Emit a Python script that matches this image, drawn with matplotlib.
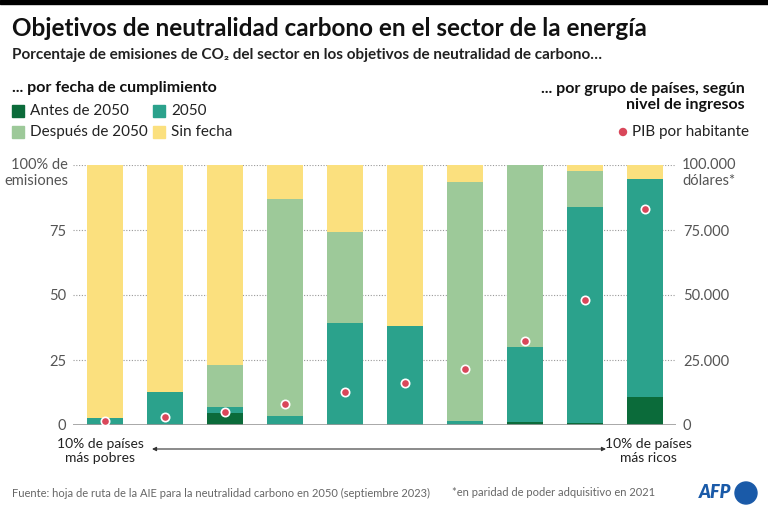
import matplotlib.pyplot as plt
from matplotlib.patches import Rectangle, Ellipse

plt.rcParams['font.family'] = ['Lato', 'DejaVu Sans']

# tramos de ingresos, de los 10% más pobres a los 10% más ricos
grupos = list(range(10))
antes = [0, 0, 4.5, 0, 0, 0, 0, 1.2, 0.9, 10.9]
en_2050 = [2.8, 12.7, 2.5, 3.5, 39.2, 38.0, 1.7, 28.8, 83.1, 83.6]
despues = [0, 0, 16.0, 83.5, 35.1, 0, 91.8, 70.0, 13.7, 0]
sin_fecha = [97.2, 87.3, 77.0, 13.0, 25.7, 62.0, 6.5, 0, 2.3, 5.5]
pib = [1650, 3000, 4900, 8000, 12700, 16000, 21500, 32300, 48000, 83200]

series = [('Antes de 2050', antes, '#0b6b3a'),
          ('2050', en_2050, '#2ba28c'),
          ('Después de 2050', despues, '#9dc999'),
          ('Sin fecha', sin_fecha, '#fbe07e')]

W, H = 768, 509


def fx(px):
    return px / W


def fy(py):
    return 1 - py / H


fig = plt.figure(figsize=(7.68, 5.09), dpi=100)
ax = fig.add_axes([fx(73), 84 / H, 603 / W, 260 / H])

base = [0] * 10
for nombre, vals, color in series:
    ax.bar(grupos, vals, bottom=base, width=0.59, color=color, zorder=2)
    base = [b + v for b, v in zip(base, vals)]

ax.set_xlim(-0.533, 9.517)
ax.set_ylim(0, 100)
for y in [25, 50, 75, 100]:
    ax.axhline(y, color='#999999', lw=0.8, ls=(0, (1, 1.5)), zorder=1)
ax.axhline(0, color='#999999', lw=1.2, zorder=3)
for s in ax.spines.values():
    s.set_visible(False)
ax.set_xticks([])
ax.set_yticks([0, 25, 50, 75])
ax.tick_params(axis='y', length=0, pad=5, labelsize=10.5, labelcolor='#555555')

# eje derecho para el PIB
ax2 = ax.twinx()
ax2.set_ylim(0, 100000)
ax2.scatter(grupos, pib, s=36, color='#d9475a', edgecolor='white', linewidth=1.2, zorder=5)
ax2.set_yticks([0, 25000, 50000, 75000])
ax2.set_yticklabels(['0', '25.000', '50.000', '75.000'])
ax2.tick_params(axis='y', length=0, pad=5, labelsize=10.5, labelcolor='#555555')
for s in ax2.spines.values():
    s.set_visible(False)

gris = dict(fontsize=10.5, color='#555555', va='center')
fig.text(fx(68), fy(165), '100% de', ha='right', **gris)
fig.text(fx(68), fy(181), 'emisiones', ha='right', **gris)
fig.text(fx(682), fy(165), '100.000', ha='left', **gris)
fig.text(fx(682), fy(181), 'dólares*', ha='left', **gris)

# título y textos
fig.patches.append(Rectangle((0, fy(4)), 1, 4 / H, transform=fig.transFigure, color='black'))
fig.text(fx(12), fy(28), 'Objetivos de neutralidad carbono en el sector de la energía',
         fontsize=17.5, fontweight='bold', va='center', color='#111111')
fig.text(fx(12), fy(55),
         'Porcentaje de emisiones de CO₂ del sector en los objetivos de neutralidad de carbono…',
         fontsize=11, fontweight='bold', va='center', color='#222222')
fig.text(fx(12), fy(88), '... por fecha de cumplimiento', fontsize=11.5,
         fontweight='bold', va='center', color='#111111')

pos_leyenda = [(12, 111), (153, 111), (12, 132), (153, 132)]
for (nombre, vals, color), (px, py) in zip(series, pos_leyenda):
    fig.patches.append(Rectangle((fx(px), fy(py + 6)), 12 / W, 12 / H,
                                 transform=fig.transFigure, color=color))
    fig.text(fx(px + 18), fy(py), nombre, fontsize=11, va='center', color='#222222')

fig.text(fx(745), fy(97), '... por grupo de países, según\nnivel de ingresos',
         fontsize=11.5, fontweight='bold', ha='right', va='center', color='#111111',
         linespacing=1.2, multialignment='right')
fig.patches.append(Ellipse((fx(623), fy(132)), 7 / W, 7 / H, transform=fig.transFigure,
                           color='#d9475a'))
fig.text(fx(632), fy(132), 'PIB por habitante', fontsize=11, va='center', color='#222222')

# extremos de la escala de ingresos
fig.text(fx(100), fy(451), '10% de países\nmás pobres', fontsize=10, ha='center',
         va='center', color='#222222', linespacing=1.25)
fig.text(fx(648), fy(451), '10% de países\nmás ricos', fontsize=10, ha='center',
         va='center', color='#222222', linespacing=1.25)
ax.annotate('', xy=(fx(152), fy(449)), xytext=(fx(606), fy(449)),
            xycoords='figure fraction', textcoords='figure fraction',
            arrowprops=dict(arrowstyle='<|-|>', color='#333333', lw=0.8,
                            mutation_scale=6, shrinkA=0, shrinkB=0))

pie = dict(fontsize=8, va='center', color='#666666')
fig.text(fx(12), fy(493),
         'Fuente: hoja de ruta de la AIE para la neutralidad carbono en 2050 (septiembre 2023)',
         **pie)
fig.text(fx(452), fy(493), '*en paridad de poder adquisitivo en 2021', **pie)
fig.text(fx(699), fy(493), 'AFP', fontsize=13, fontweight='heavy', style='italic',
         va='center', color='#1a5aa8')
fig.patches.append(Ellipse((fx(746), fy(493)), 22 / W, 22 / H, transform=fig.transFigure,
                           color='#1a5aa8'))

fig.savefig('out.png', dpi=100, facecolor='white')
